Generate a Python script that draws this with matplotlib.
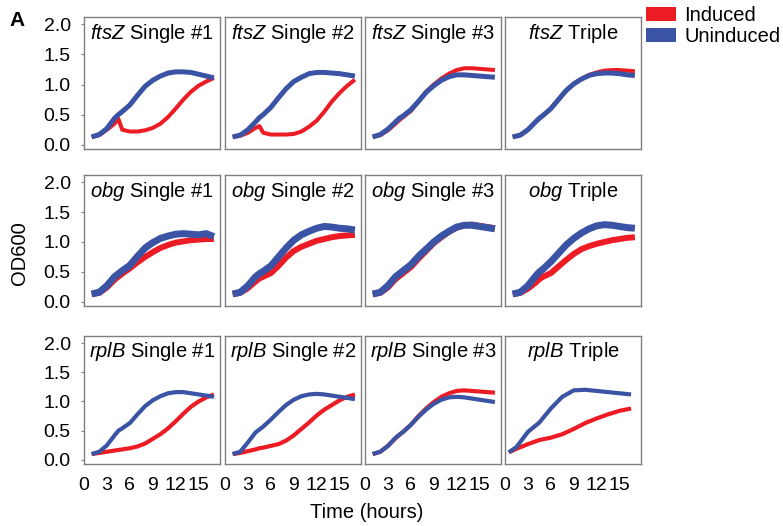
import matplotlib
matplotlib.use("Agg")
import matplotlib.pyplot as plt
from matplotlib.patches import Patch

plt.rcParams['font.family'] = ['Liberation Sans', 'DejaVu Sans']
plt.rcParams['mathtext.fontset'] = 'custom'
plt.rcParams['mathtext.rm'] = 'Liberation Sans'
plt.rcParams['mathtext.it'] = 'Liberation Sans:italic'

# Zeitpunkte (Stunden)
hours = [1, 2, 3, 4, 4.5, 5, 6, 7, 8, 9, 10, 11, 12, 13, 14, 15, 16, 17]
hours_rplb_triple = [0.5, 1.5, 3, 4.5, 6, 7.5, 9, 10.5, 12, 13.5, 15, 16.5]

# ftsZ
ftsz_s1_ind = [0.13, 0.16, 0.25, 0.35, 0.43, 0.25, 0.22, 0.22, 0.24, 0.28, 0.35, 0.46, 0.60, 0.75, 0.88, 0.98, 1.05, 1.11]
ftsz_s1_unind = [0.13, 0.17, 0.27, 0.44, 0.50, 0.55, 0.66, 0.82, 0.97, 1.07, 1.14, 1.19, 1.21, 1.21, 1.20, 1.17, 1.14, 1.11]
ftsz_s2_ind = [0.13, 0.15, 0.20, 0.28, 0.31, 0.20, 0.17, 0.17, 0.17, 0.18, 0.22, 0.30, 0.40, 0.55, 0.72, 0.86, 0.98, 1.08]
ftsz_s2_unind = [0.13, 0.16, 0.25, 0.38, 0.45, 0.50, 0.62, 0.78, 0.93, 1.05, 1.12, 1.18, 1.20, 1.20, 1.19, 1.18, 1.16, 1.14]
ftsz_s3_ind = [0.13, 0.16, 0.24, 0.35, 0.41, 0.46, 0.56, 0.72, 0.88, 1.00, 1.10, 1.18, 1.24, 1.27, 1.27, 1.26, 1.25, 1.24]
ftsz_s3_unind = [0.13, 0.17, 0.26, 0.38, 0.44, 0.48, 0.58, 0.72, 0.87, 0.98, 1.07, 1.13, 1.16, 1.16, 1.15, 1.14, 1.13, 1.12]
ftsz_tr_ind = [0.13, 0.16, 0.25, 0.38, 0.44, 0.49, 0.60, 0.75, 0.90, 1.01, 1.09, 1.16, 1.20, 1.23, 1.24, 1.24, 1.23, 1.22]
ftsz_tr_unind = [0.13, 0.16, 0.25, 0.38, 0.44, 0.49, 0.60, 0.75, 0.90, 1.01, 1.09, 1.15, 1.18, 1.19, 1.19, 1.18, 1.16, 1.15]

# obg
obg_s1_ind = [0.13, 0.15, 0.24, 0.37, 0.42, 0.47, 0.56, 0.66, 0.75, 0.83, 0.90, 0.95, 0.99, 1.01, 1.03, 1.04, 1.05, 1.05]
obg_s1_unind = [0.13, 0.16, 0.27, 0.42, 0.47, 0.52, 0.61, 0.76, 0.90, 0.99, 1.06, 1.10, 1.13, 1.14, 1.13, 1.12, 1.14, 1.09]
obg_s2_ind = [0.13, 0.15, 0.23, 0.34, 0.39, 0.42, 0.48, 0.60, 0.74, 0.85, 0.92, 0.97, 1.02, 1.05, 1.08, 1.10, 1.11, 1.12]
obg_s2_unind = [0.13, 0.16, 0.27, 0.42, 0.47, 0.51, 0.60, 0.75, 0.90, 1.03, 1.12, 1.18, 1.23, 1.26, 1.25, 1.23, 1.22, 1.20]
obg_s3_ind = [0.13, 0.15, 0.24, 0.38, 0.43, 0.48, 0.58, 0.72, 0.85, 0.98, 1.08, 1.17, 1.24, 1.28, 1.29, 1.27, 1.25, 1.23]
obg_s3_unind = [0.13, 0.16, 0.27, 0.42, 0.47, 0.52, 0.62, 0.76, 0.88, 1.00, 1.10, 1.18, 1.25, 1.28, 1.28, 1.26, 1.24, 1.22]
obg_tr_ind = [0.13, 0.15, 0.22, 0.32, 0.38, 0.42, 0.48, 0.59, 0.70, 0.80, 0.88, 0.93, 0.97, 1.00, 1.03, 1.05, 1.07, 1.08]
obg_tr_unind = [0.13, 0.16, 0.27, 0.43, 0.50, 0.55, 0.67, 0.81, 0.95, 1.06, 1.15, 1.22, 1.27, 1.29, 1.28, 1.26, 1.24, 1.23]

# rplB
rplb_s1_ind = [0.10, 0.12, 0.14, 0.16, 0.17, 0.18, 0.20, 0.23, 0.28, 0.36, 0.44, 0.54, 0.66, 0.79, 0.91, 1.00, 1.07, 1.12]
rplb_s1_unind = [0.10, 0.14, 0.25, 0.42, 0.50, 0.54, 0.63, 0.78, 0.92, 1.02, 1.09, 1.14, 1.16, 1.16, 1.14, 1.12, 1.10, 1.08]
rplb_s2_ind = [0.10, 0.12, 0.15, 0.18, 0.20, 0.21, 0.24, 0.27, 0.33, 0.42, 0.53, 0.64, 0.76, 0.86, 0.94, 1.02, 1.08, 1.12]
rplb_s2_unind = [0.10, 0.14, 0.30, 0.47, 0.52, 0.57, 0.69, 0.82, 0.94, 1.03, 1.09, 1.12, 1.13, 1.12, 1.10, 1.08, 1.06, 1.04]
rplb_s3_ind = [0.10, 0.14, 0.24, 0.37, 0.43, 0.48, 0.60, 0.75, 0.88, 0.99, 1.08, 1.14, 1.18, 1.19, 1.18, 1.17, 1.16, 1.15]
rplb_s3_unind = [0.10, 0.14, 0.24, 0.38, 0.43, 0.48, 0.60, 0.74, 0.86, 0.96, 1.03, 1.07, 1.08, 1.07, 1.05, 1.03, 1.01, 0.99]
rplb_tr_ind = [0.13, 0.19, 0.27, 0.34, 0.38, 0.44, 0.53, 0.63, 0.71, 0.78, 0.84, 0.88]
rplb_tr_unind = [0.13, 0.22, 0.48, 0.64, 0.88, 1.08, 1.19, 1.20, 1.18, 1.16, 1.14, 1.12]

genes = ['ftsZ', 'obg', 'rplB']
strains = ['Single #1', 'Single #2', 'Single #3', 'Triple']
induced = [
    [ftsz_s1_ind, ftsz_s2_ind, ftsz_s3_ind, ftsz_tr_ind],
    [obg_s1_ind, obg_s2_ind, obg_s3_ind, obg_tr_ind],
    [rplb_s1_ind, rplb_s2_ind, rplb_s3_ind, rplb_tr_ind],
]
uninduced = [
    [ftsz_s1_unind, ftsz_s2_unind, ftsz_s3_unind, ftsz_tr_unind],
    [obg_s1_unind, obg_s2_unind, obg_s3_unind, obg_tr_unind],
    [rplb_s1_unind, rplb_s2_unind, rplb_s3_unind, rplb_tr_unind],
]
y_ticks = [0.0, 0.5, 1.0, 1.5, 2.0]
x_ticks = [0, 3, 6, 9, 12, 15]

RED = '#ED1C24'
BLUE = '#3A53A4'
GRAY = '#7f7f7f'

W, H = 783, 526
fig = plt.figure(figsize=(W / 100, H / 100), dpi=100)

col_left = [84, 225, 365, 505]
col_width = 136
row_top = [17, 175, 336]
row_bottom = [149, 306, 464]
lw_red = [2.9, 4.3, 3.0]
lw_blue = [3.6, 5.0, 3.0]

for r in range(3):
    for c in range(4):
        rect = [col_left[c] / W, 1 - row_bottom[r] / H,
                col_width / W, (row_bottom[r] - row_top[r]) / H]
        ax = fig.add_axes(rect)
        t = hours_rplb_triple if (r == 2 and c == 3) else hours
        ax.plot(t, induced[r][c], color=RED, lw=lw_red[r],
                solid_capstyle='butt', solid_joinstyle='round')
        ax.plot(t, uninduced[r][c], color=BLUE, lw=lw_blue[r],
                solid_capstyle='butt', solid_joinstyle='round')
        ax.set_xlim(0, 17.8)
        ax.set_ylim(-0.07, 2.12)
        for s in ax.spines.values():
            s.set_color(GRAY)
            s.set_linewidth(1.0)
        ax.text(0.5, 0.965, r'$\mathit{%s}$ %s' % (genes[r], strains[c]),
                transform=ax.transAxes, ha='center', va='top', fontsize=14.5)
        ax.set_xticks(x_ticks)
        ax.set_yticks(y_ticks)
        ax.tick_params(axis='x', length=0, pad=9, labelsize=14)
        ax.tick_params(axis='y', length=2.5, pad=7, labelsize=14,
                       color=GRAY, direction='out')
        if r == 2:
            ax.set_xticklabels([str(v) for v in x_ticks])
        else:
            ax.set_xticklabels([])
        if c == 0:
            ax.set_yticklabels(['%.1f' % v for v in y_ticks])
        else:
            ax.set_yticklabels([])
            ax.tick_params(axis='y', length=0)

fig.text(20 / W, 1 - 253 / H, 'OD600', rotation=90, ha='center',
         va='center', fontsize=14.5)
fig.text(367 / W, 1 - 513 / H, 'Time (hours)', ha='center', va='center',
         fontsize=14.5)
fig.text(17 / W, 1 - 20 / H, 'A', ha='center', va='center', fontsize=15,
         fontweight='bold')

handles = [Patch(facecolor=RED, edgecolor='none', label='Induced'),
           Patch(facecolor=BLUE, edgecolor='none', label='Uninduced')]
fig.legend(handles=handles, loc='upper left',
           bbox_to_anchor=(646 / W, 1 - 6 / H), frameon=False,
           fontsize=14.5, handlelength=1.5, handleheight=0.7,
           handletextpad=0.4, labelspacing=0.12, borderpad=0,
           borderaxespad=0)

fig.savefig('out.png', dpi=100)
